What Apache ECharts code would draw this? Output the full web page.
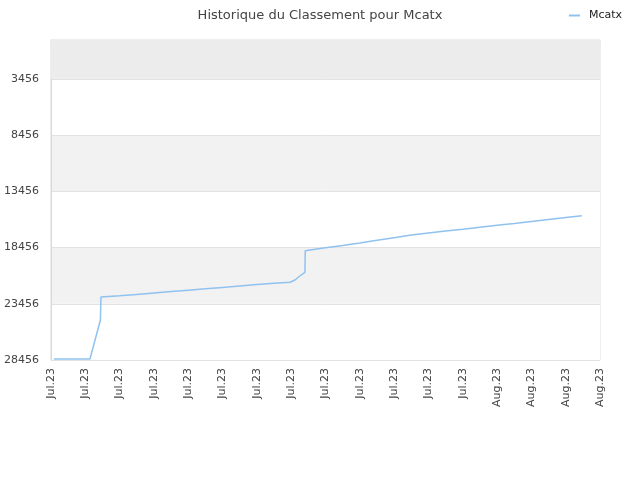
<!DOCTYPE html>
<html>
<head>
<meta charset="utf-8">
<script src="https://cdn.jsdelivr.net/npm/echarts@6/dist/echarts.min.js"></script>
<style>html,body{margin:0;padding:0;background:#fff}#c{width:640px;height:480px}</style>
</head>
<body>
<div id="c"></div>
<script>
// x: days since the start of the axis (axis spans 32 days, ticks every 2 days)
var dayOffsets = [0.17, 2.27, 2.88, 2.91, 3, 4, 5, 6, 7, 8, 9, 10, 11, 12, 13, 13.93, 14.22, 14.5, 14.8, 14.82,
  15, 16, 17, 18, 19, 20, 21, 22, 23, 24, 25, 26, 27, 28, 29, 30, 30.94];
var ranks = [28367, 28367, 24899, 22854, 22871, 22747, 22623, 22498, 22374, 22249, 22125, 22000, 21876, 21752, 21627, 21546, 21340, 20985, 20657, 18736,
  18692, 18479, 18265, 18043, 17812, 17581, 17349, 17163, 16994, 16825, 16647, 16478, 16309, 16131, 15962, 15793, 15633];
var xTickLabels = ['Jul.23','Jul.23','Jul.23','Jul.23','Jul.23','Jul.23','Jul.23','Jul.23','Jul.23','Jul.23','Jul.23','Jul.23','Jul.23','Aug.23','Aug.23','Aug.23','Aug.23'];
var yTicks = [3456, 8456, 13456, 18456, 23456, 28456];
var seriesName = 'Mcatx';
var titleText = 'Historique du Classement pour Mcatx';

var points = dayOffsets.map(function (d, i) { return [d, -ranks[i]]; });
var font = 'DejaVu Sans';
var chart = echarts.init(document.getElementById('c'));
chart.setOption({
  animation: false,
  title: { text: titleText, left: 'center', top: 4, textStyle: { fontFamily: font, fontSize: 13, fontWeight: 'normal', color: '#444' } },
  legend: { right: 13, top: 5, itemWidth: 11, itemHeight: 2, icon: 'rect',
    textStyle: { fontFamily: font, fontSize: 11, color: '#222', padding: [0, 0, 0, 4] }, data: [seriesName] },
  grid: { left: 51, right: 40, top: 40, bottom: 120, show: true, borderColor: '#dddddd', borderWidth: 1, backgroundColor: 'transparent' },
  xAxis: {
    type: 'value', min: 0, max: 32, interval: 2,
    axisLine: { show: true, lineStyle: { color: '#d8d8d8' } },
    axisTick: { show: false },
    splitLine: { show: false },
    axisLabel: { rotate: 90, fontFamily: font, fontSize: 11, color: '#444', margin: 8,
      formatter: function (v) { return xTickLabels[Math.round(v / 2)] || ''; } }
  },
  yAxis: {
    type: 'value', min: -yTicks[yTicks.length - 1], max: 0, interval: 5000,
    axisLine: { show: true, lineStyle: { color: '#d8d8d8' } },
    axisTick: { show: false },
    splitLine: { show: true, lineStyle: { color: '#e2e2e2' } },
    splitArea: { show: true, areaStyle: { color: ['#ffffff', '#f2f2f2'] } },
    axisLabel: { fontFamily: font, fontSize: 11, color: '#444', margin: 12,
      formatter: function (v) { return v === 0 ? '' : String(-v); } }
  },
  series: [{
    name: seriesName, type: 'line', data: points, showSymbol: false, symbol: 'none',
    lineStyle: { color: '#90c2f0', width: 1.5 }, itemStyle: { color: '#90c2f0' },
    markArea: { silent: true, itemStyle: { color: '#ececec' },
      data: [[{ yAxis: -yTicks[0] }, { yAxis: 0 }]] }
  }]
});
</script>
</body>
</html>
